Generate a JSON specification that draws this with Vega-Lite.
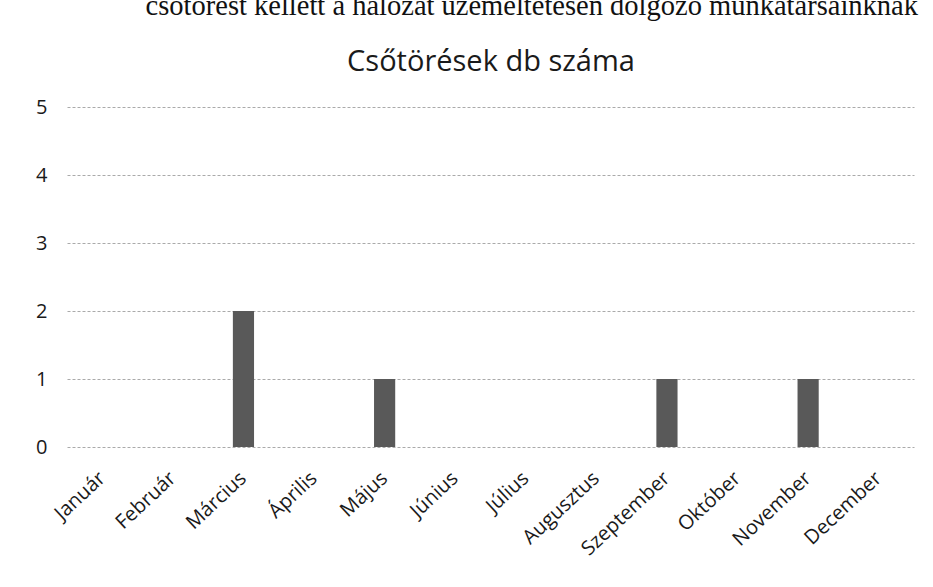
{
  "$schema": "https://vega.github.io/schema/vega-lite/v6.json",
  "autosize": {"type": "none"},
  "width": 847,
  "height": 340,
  "padding": {"left": 67, "top": 107, "right": 19, "bottom": 140},
  "background": "white",
  "title": {
    "text": "csőtörést kellett a hálózat üzemeltetésén dolgozó munkatársainknak",
    "font": "Liberation Serif",
    "fontSize": 28.5,
    "fontWeight": "normal",
    "color": "#111",
    "anchor": "end",
    "frame": "group",
    "baseline": "alphabetic",
    "offset": 4,
    "dx": 4
  },
  "data": {
    "values": [
      {"honap": "Január", "db": 0},
      {"honap": "Február", "db": 0},
      {"honap": "Március", "db": 2},
      {"honap": "Április", "db": 0},
      {"honap": "Május", "db": 1},
      {"honap": "Június", "db": 0},
      {"honap": "Július", "db": 0},
      {"honap": "Augusztus", "db": 0},
      {"honap": "Szeptember", "db": 1},
      {"honap": "Október", "db": 0},
      {"honap": "November", "db": 1},
      {"honap": "December", "db": 0}
    ]
  },
  "layer": [
    {
      "mark": {"type": "bar", "color": "#595959"},
      "encoding": {
        "x": {
          "field": "honap",
          "type": "nominal",
          "sort": null,
          "scale": {"paddingInner": 0.7, "paddingOuter": 0.35},
          "axis": {
            "orient": "bottom",
            "title": null,
            "labelAngle": -43,
            "labelAlign": "right",
            "labelBaseline": "middle",
            "labelPadding": 28,
            "labelFont": "Open Sans",
            "labelFontSize": 20,
            "labelColor": "#1a1a1a",
            "domain": false,
            "ticks": false,
            "grid": false
          }
        },
        "y": {
          "field": "db",
          "type": "quantitative",
          "scale": {"domain": [0, 5]},
          "axis": {
            "title": null,
            "values": [0, 1, 2, 3, 4, 5],
            "format": "d",
            "labelFont": "Open Sans",
            "labelFontSize": 20,
            "labelColor": "#1a1a1a",
            "labelPadding": 20,
            "domain": false,
            "ticks": false,
            "grid": true,
            "gridColor": "#aaaaaa",
            "gridDash": [3, 2],
            "gridWidth": 1
          }
        }
      }
    },
    {
      "mark": {"type": "bar", "opacity": 0},
      "encoding": {
        "x": {
          "field": "honap",
          "type": "nominal",
          "sort": null,
          "scale": {"paddingInner": 0.7, "paddingOuter": 0.35},
          "axis": {
            "orient": "top",
            "title": "Csőtörések db száma",
            "titleFont": "Open Sans",
            "titleFontSize": 29,
            "titleFontWeight": "normal",
            "titleColor": "#1a1a1a",
            "titleAnchor": "middle",
            "titleBaseline": "alphabetic",
            "titlePadding": 37,
            "labels": false,
            "domain": false,
            "ticks": false,
            "grid": false
          }
        },
        "y": {"field": "db", "type": "quantitative"}
      }
    }
  ],
  "resolve": {"axis": {"x": "independent"}},
  "config": {"view": {"stroke": null}}
}
